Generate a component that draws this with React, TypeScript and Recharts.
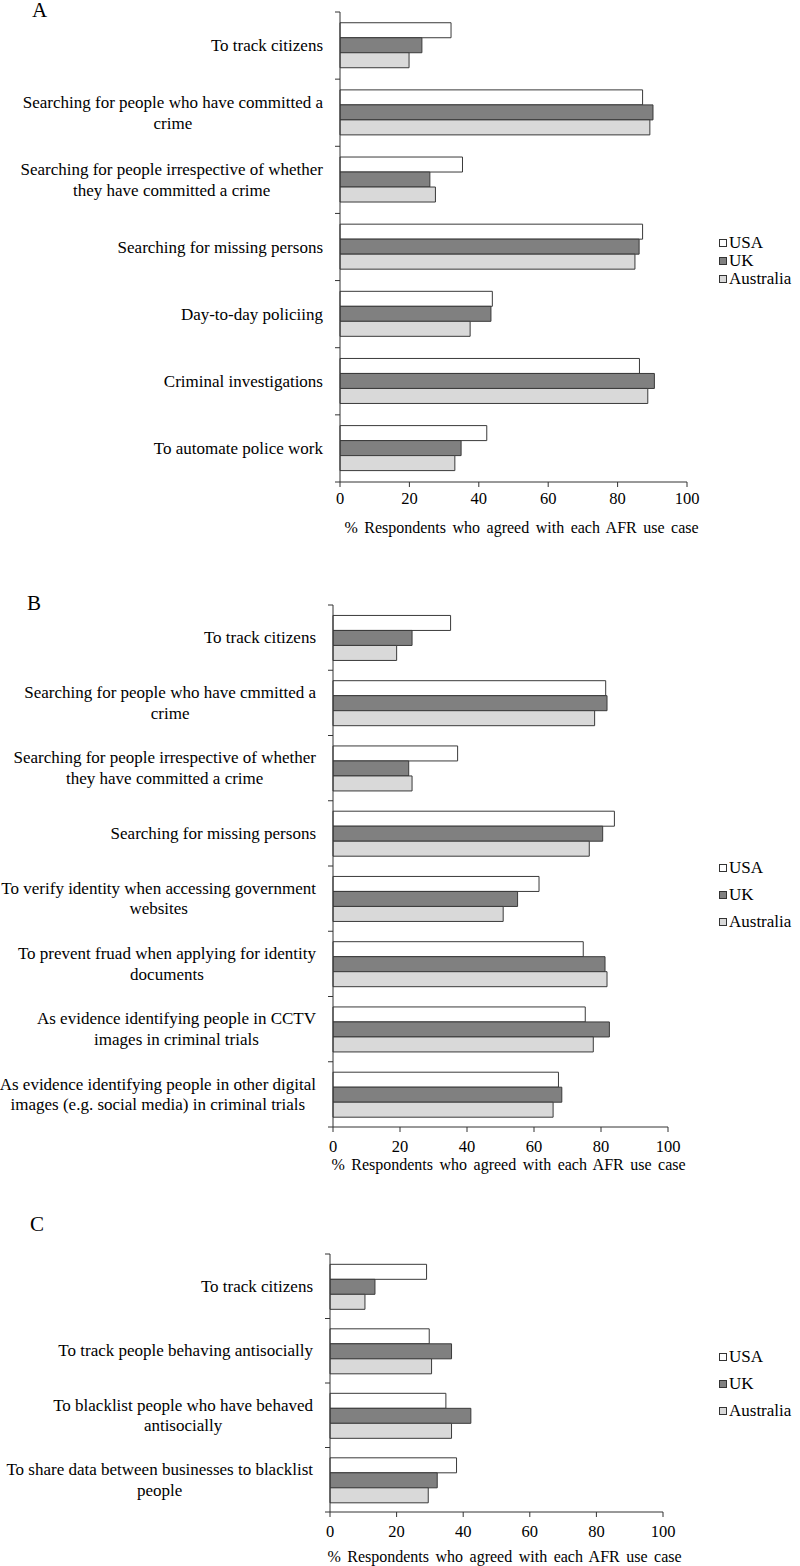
import React from "react";
import { BarChart, Bar, XAxis, YAxis, Legend } from "recharts";

const FONT = '"Liberation Serif", "Times New Roman", serif';
const AXIS = "#333333";

const seriesNames = ["USA", "UK", "Australia"];
const seriesFills = ["#ffffff", "#808080", "#d9d9d9"];
const xTicks = [0, 20, 40, 60, 80, 100];
const xTitle = "% Respondents who agreed with each AFR use case";

// panel A
const catsA = [
  "To track citizens",
  "Searching for people who have committed a\ncrime",
  "Searching for people irrespective of whether\nthey have committed a crime",
  "Searching for missing persons",
  "Day-to-day policiing",
  "Criminal investigations",
  "To automate police work",
];
const usaA = [32, 87.2, 35.3, 87.2, 43.9, 86.3, 42.3];
const ukA = [23.6, 90.2, 25.9, 86.2, 43.5, 90.6, 34.9];
const ausA = [19.9, 89.3, 27.5, 85.0, 37.5, 88.7, 33.1];

// panel B
const catsB = [
  "To track citizens",
  "Searching for people who have cmmitted a\ncrime",
  "Searching for people irrespective of whether\nthey have committed a crime",
  "Searching for missing persons",
  "To verify identity when accessing government\nwebsites",
  "To prevent fruad when applying for identity\ndocuments",
  "As evidence identifying people in CCTV\nimages in criminal trials",
  "As evidence identifying people in other digital\nimages (e.g. social media) in criminal trials",
];
const usaB = [35.1, 81.4, 37.2, 84.0, 61.5, 74.7, 75.3, 67.3];
const ukB = [23.6, 81.8, 22.6, 80.5, 55.1, 81.2, 82.5, 68.3];
const ausB = [19.0, 78.1, 23.6, 76.5, 50.8, 81.8, 77.7, 65.7];

// panel C
const catsC = [
  "To track citizens",
  "To track people behaving antisocially",
  "To blacklist people who have behaved\nantisocially",
  "To share data between businesses to blacklist\npeople",
];
const usaC = [29.0, 29.8, 34.8, 38.0];
const ukC = [13.5, 36.5, 42.3, 32.2];
const ausC = [10.5, 30.5, 36.5, 29.5];

function rows(cats: string[], usa: number[], uk: number[], aus: number[]) {
  return cats.map((c, i) => ({ name: c, USA: usa[i], UK: uk[i], Australia: aus[i] }));
}

let ctx: CanvasRenderingContext2D | null = null;
function measure(s: string, size: number) {
  if (!ctx) ctx = document.createElement("canvas").getContext("2d");
  if (!ctx) return s.length * size * 0.45;
  ctx.font = `${size}px "Liberation Serif"`;
  return ctx.measureText(s).width;
}

const LABEL_SIZE = 17;
const LINE_H = 20.5;

function CatTick(props: any) {
  const { x, y, payload, index, count, band } = props;
  const lines = String(payload.value).split("\n");
  const maxW = Math.max(...lines.map((l) => measure(l, LABEL_SIZE)));
  const cx = x - maxW / 2;
  const axisX = x + 17;
  const half = payload.offset || band / 2;
  const y0 = y - ((lines.length - 1) * LINE_H) / 2 + LABEL_SIZE * 0.33;
  return (
    <g>
      <line x1={axisX - 5} x2={axisX} y1={y - half} y2={y - half} stroke={AXIS} />
      {index === count - 1 && (
        <line x1={axisX - 5} x2={axisX} y1={y + half} y2={y + half} stroke={AXIS} />
      )}
      <text textAnchor="middle" fontFamily={FONT} fontSize={LABEL_SIZE} fill="#000">
        {lines.map((l, i) => (
          <tspan key={i} x={cx} y={y0 + i * LINE_H}>
            {l}
          </tspan>
        ))}
      </text>
    </g>
  );
}

function LegendBox({ rowH }: { rowH: number }) {
  return (
    <div style={{ fontFamily: FONT, fontSize: 17, color: "#000" }}>
      {seriesNames.map((n, i) => (
        <div key={n} style={{ height: rowH, display: "flex", alignItems: "center" }}>
          <span
            style={{
              display: "inline-block",
              width: 6,
              height: 6,
              border: "1px solid #333",
              background: seriesFills[i],
              marginRight: 2,
            }}
          />
          <span>{n}</span>
        </div>
      ))}
    </div>
  );
}

type PanelProps = {
  letter: string;
  letterLeft: number;
  letterTop: number;
  top: number;
  height: number;
  marginTop: number;
  plotLeft: number;
  plotRight: number;
  xAxisHeight: number;
  tickGap: number;
  titleOffset: number;
  legendTop: number;
  legendRowH: number;
  cats: string[];
  usa: number[];
  uk: number[];
  aus: number[];
};

function Panel(p: PanelProps) {
  const data = rows(p.cats, p.usa, p.uk, p.aus);
  const plotH = p.height - p.marginTop - p.xAxisHeight;
  const band = plotH / p.cats.length;
  return (
    <>
      <div
        style={{
          position: "absolute",
          left: p.letterLeft,
          top: p.letterTop,
          fontFamily: FONT,
          fontSize: 21,
          lineHeight: 1,
          color: "#000",
        }}
      >
        {p.letter}
      </div>
      <div style={{ position: "absolute", left: 0, top: p.top }}>
        <BarChart
          width={800}
          height={p.height}
          data={data}
          layout="vertical"
          margin={{ top: p.marginTop, right: 800 - p.plotRight, bottom: 0, left: 0 }}
          barCategoryGap="16%"
          barGap={0}
        >
          <XAxis
            type="number"
            domain={[0, 100]}
            ticks={xTicks}
            interval={0}
            height={p.xAxisHeight}
            stroke={AXIS}
            tickSize={5}
            tickMargin={p.tickGap}
            tick={{ fontFamily: FONT, fontSize: 16.5, fill: "#000" }}
            label={{
              value: xTitle,
              position: "insideBottom",
              offset: p.titleOffset,
              dx: 8,
              fontFamily: FONT,
              fontSize: 16,
              fill: "#000",
              style: { wordSpacing: "2.5px" },
            }}
          />
          <YAxis
            type="category"
            dataKey="name"
            width={p.plotLeft}
            stroke={AXIS}
            tickLine={false}
            tickSize={5}
            tickMargin={12}
            interval={0}
            tick={(tp: any) => (
              <CatTick {...tp} count={p.cats.length} band={band} />
            )}
          />
          <Legend
            layout="vertical"
            align="center"
            verticalAlign="middle"
            wrapperStyle={{ left: 719, top: p.legendTop, width: 80 }}
            content={() => <LegendBox rowH={p.legendRowH} />}
          />
          {seriesNames.map((n, i) => (
            <Bar
              key={n}
              dataKey={n}
              name={n}
              fill={seriesFills[i]}
              stroke="#3a3a3a"
              strokeWidth={1}
              isAnimationActive={false}
            />
          ))}
        </BarChart>
      </div>
    </>
  );
}

export default function App() {
  return (
    <div style={{ position: "relative", width: 800, height: 1566, background: "#fff" }}>
      <style>{`body{margin:0;background:#fff}`}</style>
      <Panel
        letter="A"
        letterLeft={32}
        letterTop={0}
        top={0}
        height={540}
        marginTop={12}
        plotLeft={340}
        plotRight={687}
        xAxisHeight={58}
        tickGap={5}
        titleOffset={7}
        legendTop={234}
        legendRowH={18}
        cats={catsA}
        usa={usaA}
        uk={ukA}
        aus={ausA}
      />
      <Panel
        letter="B"
        letterLeft={27}
        letterTop={593}
        top={560}
        height={625}
        marginTop={45}
        plotLeft={333}
        plotRight={668}
        xAxisHeight={58}
        tickGap={8}
        titleOffset={15}
        legendTop={294}
        legendRowH={27}
        cats={catsB}
        usa={usaB}
        uk={ukB}
        aus={ausB}
      />
      <Panel
        letter="C"
        letterLeft={30}
        letterTop={1214}
        top={1190}
        height={376}
        marginTop={64}
        plotLeft={330}
        plotRight={663}
        xAxisHeight={54}
        tickGap={8}
        titleOffset={4}
        legendTop={153}
        legendRowH={27}
        cats={catsC}
        usa={usaC}
        uk={ukC}
        aus={ausC}
      />
    </div>
  );
}
